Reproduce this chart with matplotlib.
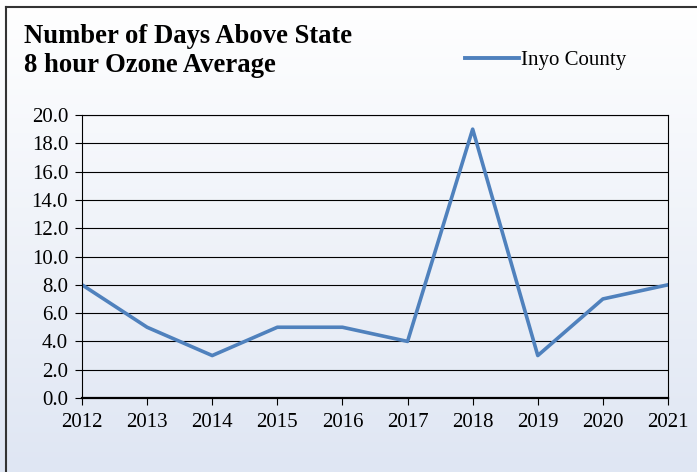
import numpy as np
import matplotlib.pyplot as plt
from matplotlib.lines import Line2D

years = [2012, 2013, 2014, 2015, 2016, 2017, 2018, 2019, 2020, 2021]
days = [8, 5, 3, 5, 5, 4, 19, 3, 7, 8]
yticks = np.arange(0, 20.1, 2)

plt.rcParams['font.family'] = ['Liberation Serif', 'DejaVu Serif']

fig = plt.figure(figsize=(6.97, 4.72), dpi=100)

# gradient background
bg = fig.add_axes([0, 0, 1, 1], zorder=-10)
grad = np.linspace(0, 1, 256).reshape(-1, 1)
top = np.array([1.0, 1.0, 1.0])
bot = np.array([0xDF, 0xE6, 0xF3]) / 255
img = top + (bot - top) * grad[:, :, None]
bg.imshow(img, aspect='auto', extent=[0, 1, 0, 1])
bg.set_xlim(0, 1)
bg.set_ylim(0, 1)
bg.axis('off')
# outer border (left and top visible)
bg.plot([6 / 697, 6 / 697], [0, 1 - 7 / 472], color='#333333', lw=1.5)
bg.plot([6 / 697, 1], [1 - 7 / 472, 1 - 7 / 472], color='#333333', lw=1.5)

ax = fig.add_axes([82 / 697, 1 - 398 / 472, 586 / 697, 283 / 472])
ax.patch.set_alpha(0)
ax.plot(years, days, color='#4F81BD', lw=2.6, label='Inyo County')
ax.set_xlim(2012, 2021)
ax.set_ylim(0, 20)
ax.set_xticks(years)
ax.set_yticks(yticks)
ax.set_yticklabels([f'{v:.1f}' for v in yticks])
ax.yaxis.grid(True, color='black', lw=0.8)
ax.set_axisbelow(True)
for s in ['left', 'right', 'top']:
    ax.spines[s].set_linewidth(0.8)
ax.spines['bottom'].set_linewidth(1.6)
ax.tick_params(axis='both', direction='out', labelsize=15, length=5, width=0.8, colors='black')
ax.tick_params(axis='x', pad=6)
ax.tick_params(axis='y', pad=5)

fig.text(24 / 697, 1 - 51 / 472, 'Number of Days Above State\n8 hour Ozone Average',
         fontsize=19.2, fontweight='bold', va='center', ha='left', linespacing=1.2)

fig.legend(handles=[Line2D([], [], color='#4F81BD', lw=2.8)], labels=['Inyo County'],
           loc='center left', bbox_to_anchor=(446 / 697, 1 - 60 / 472), frameon=False,
           fontsize=15, handlelength=2.6, handletextpad=0.1)

fig.savefig('out.png', dpi=100)
